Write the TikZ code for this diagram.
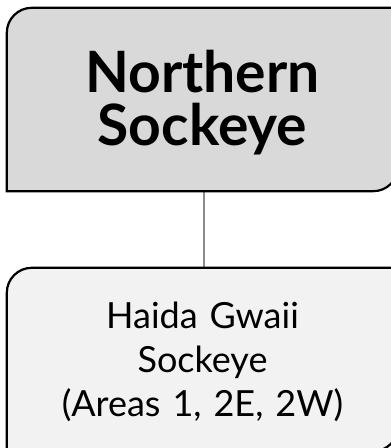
\documentclass[tikz,border=0pt]{standalone}
\usepackage{fontspec}
\setmainfont{Lato}
\definecolor{topfill}{HTML}{D9D9D9}
\definecolor{botfill}{HTML}{F2F2F2}
\definecolor{connc}{HTML}{8C8C8C}
\tikzset{
  boxnode/.style={draw=none, minimum width=391pt, minimum height=183pt, inner sep=0pt, align=center, text width=385pt},
  boxline/.style={draw=black, line width=2.2pt},
  conn/.style={draw=connc, line width=1.8pt}
}
\begin{document}
\begin{tikzpicture}[x=1pt,y=1pt]
\useasboundingbox (0,0) rectangle (391,448);
\node[boxnode] (top) at (202.5,348.5) {};
\node[boxnode] (bot) at (202.5,88.5) {};
\draw[conn] ([xshift=1.5pt]top.south) -- ([xshift=1.5pt]bot.north);
\fill[topfill] (top.south west) -- ([yshift=-25pt]top.north west) arc[start angle=180, end angle=90, radius=25pt] -- (top.north east) -- ([yshift=25pt]top.south east) arc[start angle=0, end angle=-90, radius=25pt] -- cycle;
\draw[boxline] (top.south west) -- ([yshift=-25pt]top.north west) arc[start angle=180, end angle=90, radius=25pt] -- (top.north east) -- ([yshift=25pt]top.south east) arc[start angle=0, end angle=-90, radius=25pt] -- cycle;
\fill[botfill] (bot.south west) -- ([yshift=-25pt]bot.north west) arc[start angle=180, end angle=90, radius=25pt] -- (bot.north east) -- ([yshift=25pt]bot.south east) arc[start angle=0, end angle=-90, radius=25pt] -- cycle;
\draw[boxline] (bot.south west) -- ([yshift=-25pt]bot.north west) arc[start angle=180, end angle=90, radius=25pt] -- (bot.north east) -- ([yshift=25pt]bot.south east) arc[start angle=0, end angle=-90, radius=25pt] -- cycle;
\node[boxnode, font=\fontsize{57}{53}\bfseries\selectfont] (toptext) at (202.5,345) {Northern\\Sockeye};
\node[boxnode, font=\fontsize{36}{44}\selectfont] (bottext) at (202.5,86) {Haida Gwaii\\Sockeye\\(Areas 1, 2E, 2W)};
\end{tikzpicture}
\end{document}
